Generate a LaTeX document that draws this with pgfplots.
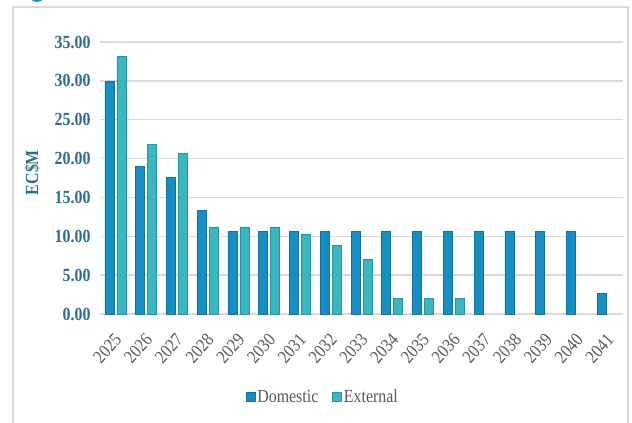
\documentclass[border=0pt]{standalone}
\usepackage{fontspec}
\setmainfont{Liberation Serif}[FakeStretch=0.86]
\usepackage{pgfplots}
\pgfplotsset{compat=1.18}
\definecolor{dom}{HTML}{1690C4}
\definecolor{ext}{HTML}{38B6C2}
\definecolor{domb}{HTML}{15709A}
\definecolor{extb}{HTML}{2A949E}
\definecolor{ylab}{HTML}{2E6D8E}
\definecolor{gridc}{HTML}{D9D9D9}
\definecolor{txt}{HTML}{595959}
\begin{document}
\begin{tikzpicture}
\useasboundingbox (0pt,0pt) rectangle (632pt,423pt);
\fill[white] (0pt,0pt) rectangle (632pt,423pt);
\draw[gridc, line width=2pt] (12.5pt,-5pt) -- (12.5pt,416pt) -- (627.5pt,416pt) -- (627.5pt,-5pt);
\fill[dom] (37pt,429pt) circle (8pt);
\begin{axis}[
  at={(100pt,109pt)}, anchor=south west,
  scale only axis, width=523pt, height=272pt,
  ybar=3pt, bar width=9pt,
  xmin=-0.5, xmax=16.5, ymin=0, ymax=35,
  axis y line*=left, axis x line*=bottom,
  y axis line style={draw=none},
  x axis line style={gridc, line width=1.5pt, -},
  ymajorgrids, grid style={gridc, line width=1.5pt},
  ytick={0,5,...,35},
  yticklabel style={font=\fontsize{18.5}{21}\selectfont\bfseries, text=ylab, xshift=-6pt},
  /pgf/number format/assume math mode=true,
  /pgf/number format/.cd, fixed, fixed zerofill, precision=2, /pgfplots/.cd,
  xtick={0,...,16},
  xticklabels={2025,2026,2027,2028,2029,2030,2031,2032,2033,2034,2035,2036,2037,2038,2039,2040,2041},
  xticklabel style={font=\fontsize{18.5}{21}\selectfont, text=txt, xshift=5pt, yshift=-20pt, rotate=48, anchor=east},
  major tick length=0pt,
  ylabel={EC\$M},
  ylabel style={at={(axis description cs:-0.130,0.52)}, anchor=center, font=\fontsize{18.5}{21}\selectfont\bfseries, text=ylab},
  legend style={at={(axis description cs:0.426,-0.305)}, anchor=center, draw=none, fill=none,
    legend columns=2, font=\fontsize{18.5}{21}\selectfont, text=txt,
    /tikz/every even column/.append style={column sep=12pt}},
  legend image code/.code={\fill[#1] (0pt,-4.5pt) rectangle (9pt,4.5pt);},
  clip=false,
]
\addplot[fill=dom, draw=domb, line width=0.6pt] coordinates {
(0,29.9) (1,19.0) (2,17.6) (3,13.3) (4,10.67) (5,10.67) (6,10.67) (7,10.67) (8,10.67)
(9,10.67) (10,10.67) (11,10.67) (12,10.67) (13,10.67) (14,10.67) (15,10.67) (16,2.67)};
\addplot[fill=ext, draw=extb, line width=0.6pt] coordinates {
(0,33.1) (1,21.8) (2,20.7) (3,11.2) (4,11.2) (5,11.2) (6,10.3) (7,8.8) (8,7.0)
(9,2.0) (10,2.0) (11,2.0)};
\legend{Domestic,External}
\end{axis}
\end{tikzpicture}
\end{document}
